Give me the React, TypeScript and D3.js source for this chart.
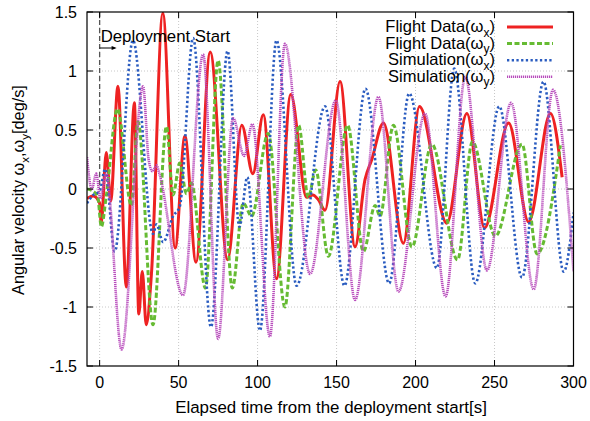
import React from "react";
import * as d3 from "d3";

const W = 590;
const H = 421;
const M = { left: 87, right: 16.5, top: 12, bottom: 55 };

const xTicks = [0, 50, 100, 150, 200, 250, 300];
const yTicks = [-1.5, -1, -0.5, 0, 0.5, 1, 1.5];
const yTickLabels = ["-1.5", "-1", "-0.5", "0", "0.5", "1", "1.5"];

// Flight Data (ωx)
const flightXT = [-8, -4, 0, 1, 4.2, 7, 11.6, 16.9, 22, 24.8, 27, 29.5, 32.8, 40, 47.8, 54, 61, 70, 81, 90, 97, 103.6, 112, 121, 131, 135, 138.4, 142.7, 152.2, 161.7, 168, 172.3, 179.7, 192.3, 202.5, 219.8, 232.5, 243.7, 258.9, 271.6, 285.4, 292.8];
const flightXV = [-0.08, -0.06, -0.12, -0.29, 0.31, -0.1, 0.87, -0.83, 0.73, -1.06, -0.7, -1.15, -0.72, 1.49, -0.5, 0.45, -0.62, 1.16, -0.6, 0.54, 0.13, 0.63, -0.76, 0.8, -0.07, -0.05, -0.09, -0.18, 0.91, -0.49, 0.08, 0.25, 0.56, -0.46, 0.7, -0.29, 0.64, -0.33, 0.56, -0.28, 0.64, 0.1];

// Flight Data (ωy)
const flightYT = [-8, -4, -1.3, 1.1, 4.2, 11.3, 20.1, 24.3, 33.8, 42.3, 46.5, 50.7, 55, 58.1, 67, 75, 84, 90.9, 96.2, 106.7, 117.3, 126, 132.1, 136.8, 144.8, 157, 167, 174.4, 177.5, 186, 197.7, 210.3, 226.6, 236, 250.5, 267.4, 276.9, 291.7];
const flightYV = [0, -0.02, -0.06, -0.32, -0.06, 0.68, -0.14, 0.57, -1.15, 0.53, -0.05, 0.22, -0.04, 0.05, -0.84, 1.09, -0.84, -0.12, -0.23, 0.47, -1.0, 0.54, -0.07, 0.16, -0.57, 0.54, -0.53, -0.14, -0.23, 0.54, -0.49, 0.38, -0.6, 0.4, -0.4, 0.38, -0.55, 0.37];

// Simulation (ωx)
const simXT = [-8, -4, 0, 3.5, 9.5, 21.1, 33.8, 36, 40.2, 46.5, 50.7, 59.2, 70.5, 81, 88.5, 93.5, 101.5, 112, 124.7, 142.7, 155, 168.3, 183.3, 196, 213.5, 224.5, 237.8, 253, 267.4, 281, 293.8, 300];
const simXV = [-0.12, -0.05, -0.02, 0.17, -0.53, 1.26, -0.38, -0.3, -0.45, -0.23, -0.15, 1.28, -1.17, 1.17, -0.32, 0.1, -1.2, 1.26, -0.82, 0.7, -0.82, 0.85, -0.8, 0.81, -0.67, 1.02, -0.8, 0.7, -0.75, 0.91, -0.7, -0.2];

// Simulation (ωy)
const simYT = [-8, -5, -2.1, 0.5, 4.2, 13.9, 27.5, 31, 33.5, 36, 38, 52.8, 65.5, 75, 84.5, 91.5, 96.7, 107.8, 117.3, 133.2, 149.5, 161.7, 176.5, 189.2, 206, 219, 231.5, 245.2, 260.5, 274.8, 287, 300];
const simYV = [0.27, 0.0, 0.13, -0.08, 0.13, -1.36, 0.87, 0.25, 0.15, 0.2, 0.12, -0.9, 1.14, -1.27, 0.6, 0.28, 0.55, -1.25, 1.23, -0.72, 0.75, -0.94, 0.78, -0.87, 0.64, -0.91, 0.95, -0.69, 0.73, -0.85, 0.84, -0.7];

const seriesNames = ["Flight Data", "Flight Data", "Simulation", "Simulation"];
const seriesSubs = ["x", "y", "x", "y"];

const styles = [
  { color: "#ee2222", width: 3, dash: "none" },
  { color: "#66bb33", width: 3, dash: "5,2.5" },
  { color: "#2a5cc0", width: 2.6, dash: "2.3,2.4" },
  { color: "#b84cbc", width: 2.6, dash: "1.2,0.8" },
];

export default function App() {
  const x = d3.scaleLinear().domain([-8, 300]).range([M.left, W - M.right]);
  const y = d3.scaleLinear().domain([-1.5, 1.5]).range([H - M.bottom, M.top]);

  const line = d3
    .line<[number, number]>()
    .x((d) => x(d[0]))
    .y((d) => y(d[1]))
    .curve(d3.curveMonotoneX);

  const data = [
    flightXT.map((t, i) => [t, flightXV[i]] as [number, number]),
    flightYT.map((t, i) => [t, flightYV[i]] as [number, number]),
    simXT.map((t, i) => [t, simXV[i]] as [number, number]),
    simYT.map((t, i) => [t, simYV[i]] as [number, number]),
  ];

  const x0 = M.left;
  const x1 = W - M.right;
  const y0 = M.top;
  const y1 = H - M.bottom;
  const font = "'Liberation Sans', Arial, Helvetica, sans-serif";
  const tl = 6;

  return (
    <svg
      width={W}
      height={H}
      style={{ position: "absolute", left: 0, top: 0, background: "#fff" }}
      fontFamily={font}
    >
      <defs>
        <clipPath id="plotclip">
          <rect x={x0} y={y0} width={x1 - x0} height={y1 - y0} />
        </clipPath>
      </defs>
      {/* grid */}
      {xTicks.map((t) =>
        x(t) > x0 + 1 && x(t) < x1 - 1 ? (
          <line key={"gx" + t} x1={x(t)} x2={x(t)} y1={y0} y2={y1} stroke="#c8c8c8" strokeWidth={1} strokeDasharray="1,2" />
        ) : null
      )}
      {yTicks.map((t) =>
        y(t) > y0 + 1 && y(t) < y1 - 1 ? (
          <line key={"gy" + t} x1={x0} x2={x1} y1={y(t)} y2={y(t)} stroke="#c8c8c8" strokeWidth={1} strokeDasharray="1,2" />
        ) : null
      )}
      {/* deployment line */}
      <line x1={x(0)} x2={x(0)} y1={y(1.5)} y2={y(0)} stroke="#555" strokeWidth={1.3} strokeDasharray="5,3" />
      {/* series */}
      <g clipPath="url(#plotclip)">
        {data.map((d, i) => (
          <path
            key={"s" + i}
            d={line(d) || ""}
            fill="none"
            stroke={styles[i].color}
            strokeWidth={styles[i].width}
            strokeDasharray={styles[i].dash}
            strokeLinejoin="round"
          />
        ))}
      </g>
      {/* frame */}
      <rect x={x0} y={y0} width={x1 - x0} height={y1 - y0} fill="none" stroke="#000" strokeWidth={1.2} />
      {/* ticks */}
      {xTicks.map((t) => (
        <g key={"tx" + t}>
          <line x1={x(t)} x2={x(t)} y1={y1} y2={y1 - tl} stroke="#000" />
          <line x1={x(t)} x2={x(t)} y1={y0} y2={y0 + tl} stroke="#000" />
          <text x={x(t)} y={y1 + 22} textAnchor="middle" fontSize={16}>
            {t}
          </text>
        </g>
      ))}
      {yTicks.map((t, i) => (
        <g key={"ty" + t}>
          <line x1={x0} x2={x0 + tl} y1={y(t)} y2={y(t)} stroke="#000" />
          <line x1={x1} x2={x1 - tl} y1={y(t)} y2={y(t)} stroke="#000" />
          <text x={x0 - 10} y={y(t) + 5.5} textAnchor="end" fontSize={16}>
            {yTickLabels[i]}
          </text>
        </g>
      ))}
      {/* deployment annotation */}
      <text x={x(0) + 1} y={y0 + 30} fontSize={16.8}>
        Deployment Start
      </text>
      <line x1={x(0)} x2={x(0) + 15} y1={y0 + 36} y2={y0 + 36} stroke="#000" strokeWidth={1} />
      <path d={`M${x(0) + 17},${y0 + 36} l-5,-2 l0,4 z`} fill="#000" />
      {/* legend */}
      {seriesNames.map((n, i) => {
        const ly = 27 + i * 16.6;
        return (
          <g key={"lg" + i}>
            <text x={495} y={ly + 5} textAnchor="end" fontSize={16.5}>
              {n}(ω<tspan fontSize={12} dy={4.5}>{seriesSubs[i]}</tspan>
              <tspan dy={-4.5}>)</tspan>
            </text>
            <line
              x1={507}
              x2={553}
              y1={ly}
              y2={ly}
              stroke={styles[i].color}
              strokeWidth={styles[i].width}
              strokeDasharray={styles[i].dash}
            />
          </g>
        );
      })}
      {/* axis labels */}
      <text x={331} y={413} textAnchor="middle" fontSize={16.9}>
        Elapsed time from the deployment start[s]
      </text>
      <text transform={`translate(24,190) rotate(-90)`} textAnchor="middle" fontSize={16.3}>
        Angular velocity ω<tspan fontSize={11.5} dy={4.5}>x</tspan>
        <tspan dy={-4.5}>,ω</tspan>
        <tspan fontSize={11.5} dy={4.5}>y</tspan>
        <tspan dy={-4.5}>[deg/s]</tspan>
      </text>
    </svg>
  );
}
